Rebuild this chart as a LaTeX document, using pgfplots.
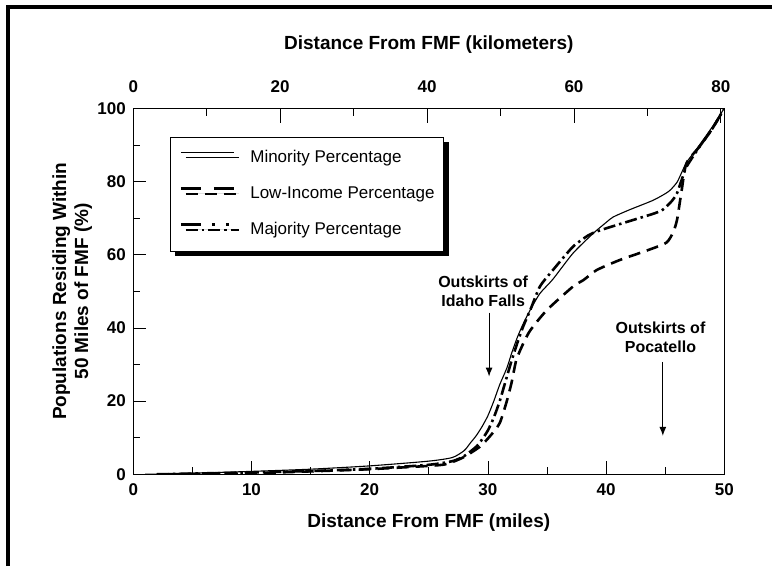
\documentclass[border=0pt]{standalone}
\usepackage{fontspec}
\setmainfont{Liberation Sans}
\usepackage{pgfplots}
\usepackage{pgfplotstable}
\pgfplotsset{compat=1.18}
\usetikzlibrary{shadows,arrows.meta}

\pgfplotstableread{
x y
1 0
5 0.3
10 0.8
15 1.4
20 2.3
25 3.6
27 4.6
28 6.5
28.5 8.5
29 10.5
29.5 13
30 16
30.5 20
31 24.5
31.6 29
32 33
32.5 37.5
33 41.2
33.6 45
34.4 49.4
35.5 53.3
37.2 60.4
38.9 65.8
40 68.8
40.6 70.3
42 72.3
44 74.9
45.3 77.3
46 79.8
46.4 82.5
46.8 85.2
47.5 88.2
48.2 91.3
49 95
49.5 97.5
50 100
}\minority

\pgfplotstableread{
x y
3 0
5 0.1
10 0.3
15 0.8
20 1.4
25 2.3
26.5 2.8
27.9 4.6
29.3 7.5
30.2 10.5
31 14
31.6 20
32 25
32.4 31.2
33 35.8
33.6 39.4
35 44.9
37.2 51.3
38.1 53.1
39.2 55.8
41.2 58.6
43.5 61.2
45.1 63.3
45.7 66.3
46 69.5
46.2 73.5
46.4 77.7
46.8 85
47.9 89.5
49 94.5
50 100
}\lowincome

\pgfplotstableread{
x y
2 0
5 0.2
10 0.5
15 0.9
20 1.5
25 2.6
27 3.6
28 5
29 7.5
29.5 9.5
30 12
30.5 15.5
31 20
31.5 25.5
32 31
32.5 36
33 40.5
33.6 45
34.4 51.3
35.5 55.8
37.2 62.2
38.5 65.3
39.2 66.3
40 67.2
42.3 69.5
44 71.2
44.8 72.3
45.6 74.8
46 76.8
46.4 80.5
46.8 84
47.9 89.5
49 94.5
50 100
}\majority

\newcommand\tickfont{\fontsize{17}{20}\selectfont\bfseries}
\newcommand\labfont{\fontsize{19}{22}\selectfont\bfseries}

\begin{document}
\begin{tikzpicture}[x=1pt,y=1pt]
\path[use as bounding box] (0,0) rectangle (772,566);
\draw[line width=3.5pt] (8,0) -- (8,559) -- (772,559);

% main axis
\begin{axis}[
  at={(133.3pt,91.7pt)}, anchor=south west,
  width=591pt, height=366pt, scale only axis,
  xmin=0, xmax=50, ymin=0, ymax=100,
  axis line style={line width=1pt},
  xtick={0,10,...,50}, minor xtick={5,15,...,45},
  ytick={0,20,...,100}, minor ytick={10,30,...,90},
  xtick pos=bottom, ytick pos=left,
  tick align=inside,
  major tick length=13pt, minor tick length=7pt,
  every tick/.style={line width=0.8pt, black},
  tick label style={font=\tickfont},
  /pgf/number format/assume math mode=true,
  xticklabel style={yshift=-6pt},
  yticklabel style={xshift=-4pt},
  xlabel={Distance From FMF (miles)},
  ylabel={Populations Residing Within\\50 Miles of FMF (\%)},
  xlabel style={font=\labfont, at={(axis description cs:0.5,-0.131)}, anchor=center},
  ylabel style={font=\labfont, align=center, at={(axis description cs:-0.1032,0.5)}, anchor=center, rotate=0},
  legend style={at={(rel axis cs:0.062,0.9216)}, anchor=north west,
    draw=black, line width=0.8pt, fill=white,
    drop shadow={shadow xshift=5pt, shadow yshift=-5pt, fill=black, opacity=1},
    font=\fontsize{17}{20}\selectfont,
    inner xsep=9pt, inner ysep=13pt,
    row sep=20pt, column sep=15pt,
    nodes={inner sep=0pt, text height=12pt, text depth=4pt}},
  legend cell align=left,
]
\addplot[black, line width=1.1pt, smooth, tension=0.4,
  legend image code/.code={\draw[black, line width=1.1pt] (0pt,5.5pt) -- (53pt,5.5pt);}]
  table[x=x,y=y] {\minority};
\addlegendentry{Minority Percentage}
\addplot[black, line width=2.6pt, smooth, tension=0.4, dash pattern=on 12pt off 7pt,
  legend image code/.code={\draw[black, line width=3pt, dash pattern=on 20pt off 13pt] (0pt,5.5pt) -- (53pt,5.5pt);}]
  table[x=x,y=y] {\lowincome};
\addlegendentry{Low-Income Percentage}
\addplot[black, line width=2.6pt, smooth, tension=0.4, dash pattern=on 12pt off 4pt on 2.5pt off 4pt,
  legend image code/.code={\draw[black, line width=3pt, dash pattern=on 20pt off 11pt on 3pt off 11pt on 3pt off 20pt] (0pt,5.5pt) -- (53pt,5.5pt);}]
  table[x=x,y=y] {\majority};
\addlegendentry{Majority Percentage}

\node[font=\fontsize{16}{19}\selectfont\bfseries, align=center] at (axis cs:29.6,50) {Outskirts of\\Idaho Falls};
\draw[line width=1pt, -{Latex[length=9pt,width=7pt]}] (axis cs:30.1,44.2) -- (axis cs:30.1,26.7);
\node[font=\fontsize{16}{19}\selectfont\bfseries, align=center] at (axis cs:44.6,37.5) {Outskirts of\\Pocatello};
\draw[line width=1pt, -{Latex[length=9pt,width=7pt]}] (axis cs:44.8,30.7) -- (axis cs:44.8,10.5);
\end{axis}

% right-side ticks
\begin{axis}[
  at={(133.3pt,91.7pt)}, anchor=south west,
  width=591pt, height=366pt, scale only axis,
  xmin=0, xmax=50, ymin=0, ymax=100,
  axis lines=none, axis line style={draw=none},
  xtick=\empty, ytick={0,10,...,100}, yticklabels={},
  ytick pos=right, tick align=inside,
  major tick length=10pt,
  every tick/.style={line width=0.8pt, black},
]
\addplot[draw=none] coordinates {(0,0)};
\end{axis}

% top km axis
\begin{axis}[
  at={(133.3pt,91.7pt)}, anchor=south west,
  width=591pt, height=366pt, scale only axis,
  xmin=0, xmax=80.4672, ymin=0, ymax=100,
  axis x line*=top, axis y line=none,
  axis line style={line width=1pt, -},
  xtick={0,20,...,80}, minor xtick={10,30,...,70},
  tick align=inside,
  major tick length=15pt, minor tick length=8pt,
  every tick/.style={line width=0.8pt, black},
  tick label style={font=\tickfont},
  /pgf/number format/assume math mode=true,
  xticklabel style={yshift=12pt},
  xlabel={Distance From FMF (kilometers)},
  xlabel style={font=\labfont, at={(axis description cs:0.5,1.175)}, anchor=center},
]
\addplot[draw=none] coordinates {(0,0)};
\end{axis}
\end{tikzpicture}
\end{document}
